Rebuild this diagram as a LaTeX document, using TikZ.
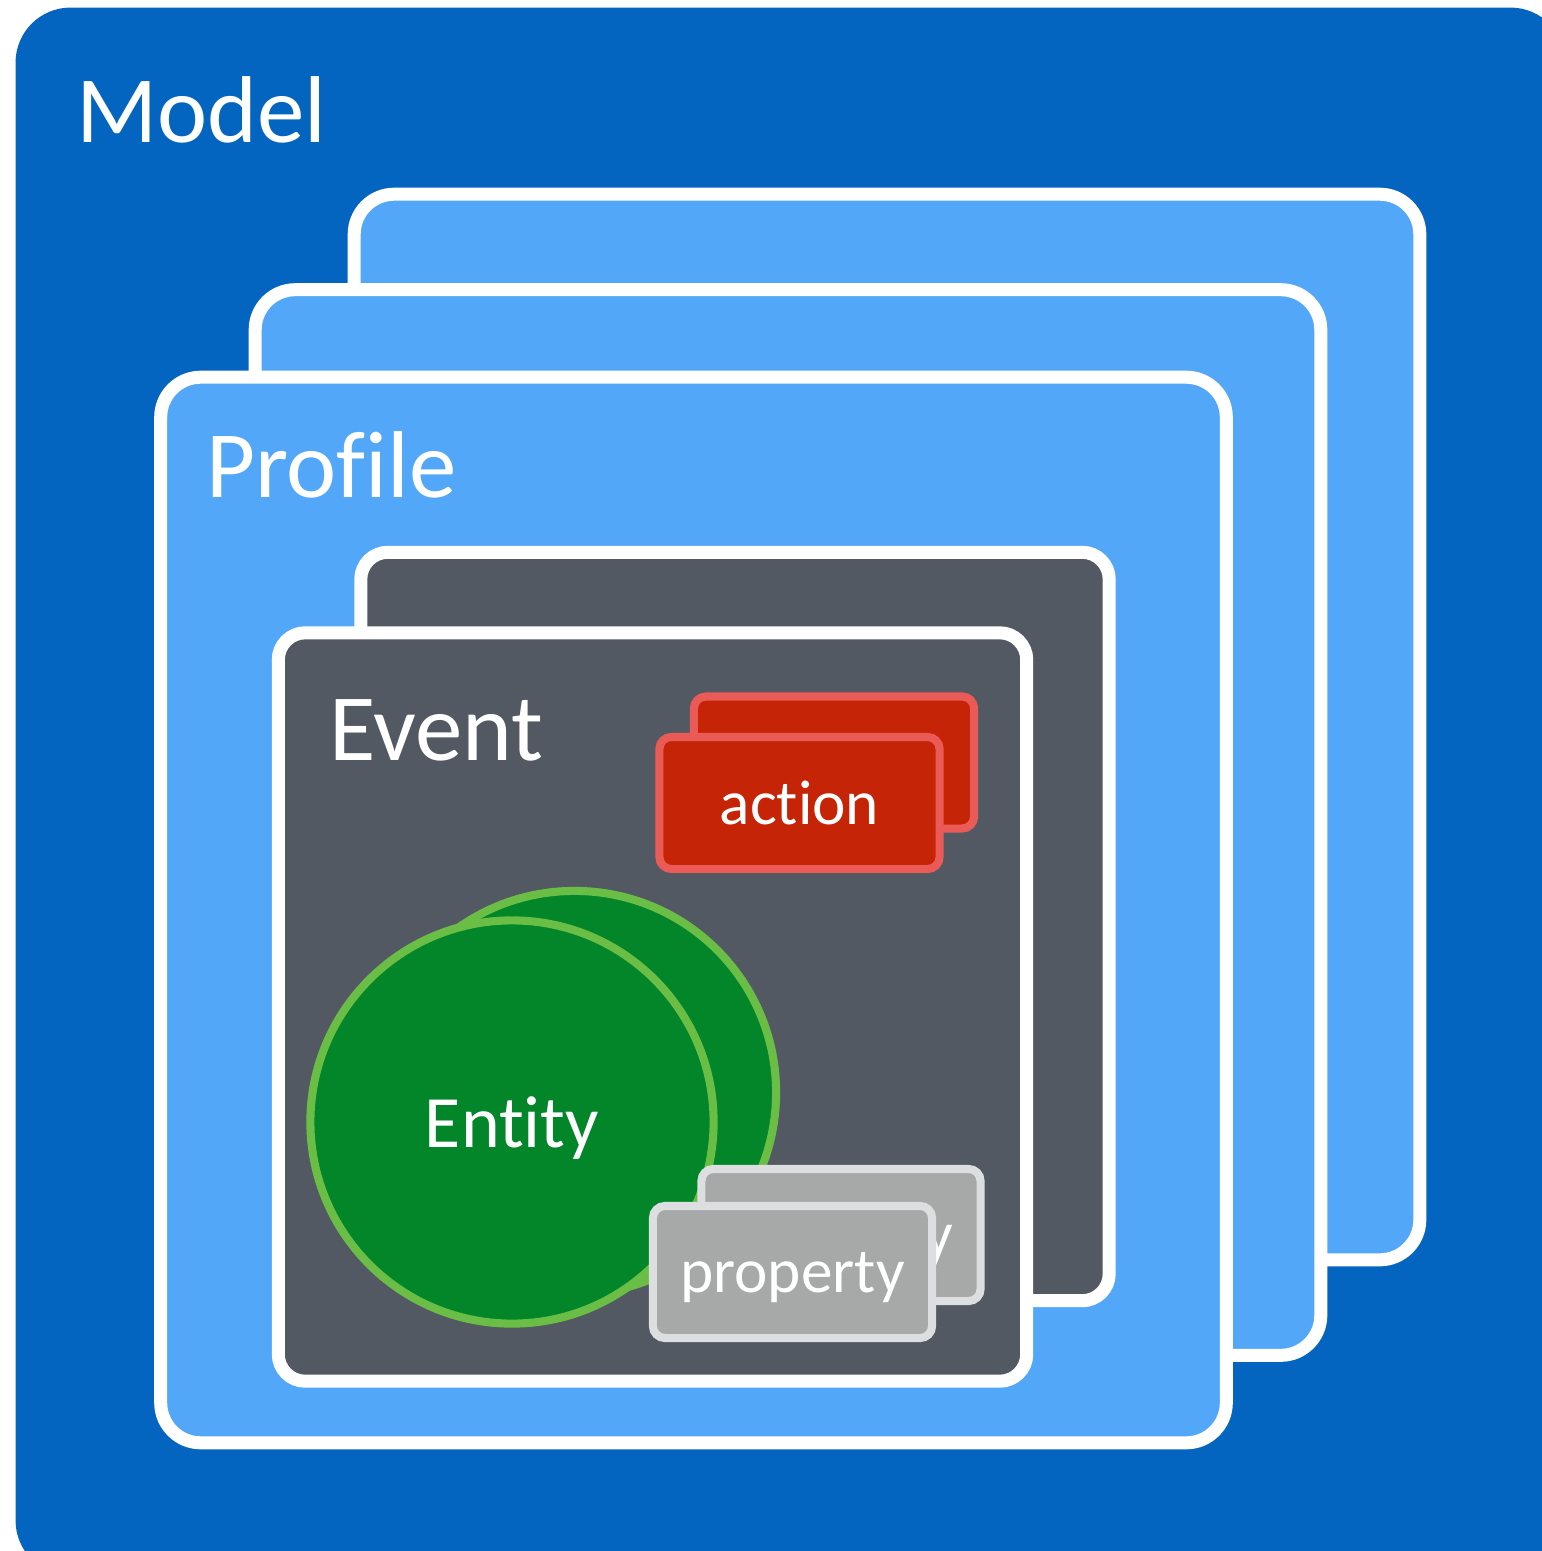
\documentclass[tikz,border=0pt]{standalone}
\usepackage{fontspec}
\setmainfont[Ligatures={NoCommon,NoContextual}]{Carlito}

\definecolor{modelblue}{HTML}{0465C0}
\definecolor{profileblue}{HTML}{52A7F9}
\definecolor{eventgray}{HTML}{535962}
\definecolor{actionred}{HTML}{C52506}
\definecolor{actionedge}{HTML}{EA5B57}
\definecolor{entitygreen}{HTML}{03862A}
\definecolor{entityedge}{HTML}{6BBE45}
\definecolor{propgray}{HTML}{A6A9A8}
\definecolor{propedge}{HTML}{DDDEE0}

\begin{document}
\begin{tikzpicture}[x=0.01cm,y=-0.01cm]
      \tikzstyle{every node}=[inner sep=0pt,outer sep=0pt];
      \tikzstyle{title}=[text=white,anchor=base west,font=\fontsize{27}{31}\selectfont];
      \tikzstyle{modelbox}=[fill=modelblue,rounded corners=0.55cm,minimum width=15.49cm,minimum height=15.67cm];
      \tikzstyle{profilebox}=[draw=white,line width=3.7pt,fill=profileblue,rounded corners=0.4cm,minimum width=10.65cm,minimum height=10.65cm];
      \tikzstyle{eventbox}=[draw=white,line width=3.7pt,fill=eventgray,rounded corners=0.27cm,minimum width=7.48cm,minimum height=7.48cm];
      \tikzstyle{actionbox}=[draw=actionedge,line width=2.3pt,fill=actionred,rounded corners=0.12cm,minimum width=2.8cm,minimum height=1.32cm,text=white,font=\fontsize{18}{21}\selectfont];
      \tikzstyle{propbox}=[draw=propedge,line width=2.3pt,fill=propgray,rounded corners=0.12cm,minimum width=2.79cm,minimum height=1.32cm,text=white,text depth=0pt,font=\fontsize{18}{21}\selectfont];
      \tikzstyle{entity}=[circle,draw=entityedge,line width=2.3pt,fill=entitygreen,minimum size=4.03cm,text=white,text depth=0pt,font=\fontsize{21}{24}\selectfont];

        \useasboundingbox (0,0) rectangle (1541,1551);

        % model
        \path (790.5,791.5) node[modelbox] (model) {};
        \path (76,142) node[title] (modeltitle) {Model};

        % profiles, back to front
        \path (887,727) node[profilebox] (profile3) {};
        \path (788,822.5) node[profilebox] (profile2) {};
        \path (693.5,910) node[profilebox] (profile1) {};
        \path (206,497) node[title] (profiletitle) {Profile};

        % events
        \path (735,926.5) node[eventbox] (event2) {};
        \path (652.5,1007) node[eventbox] (event1) {};
        \path (329,760) node[title] (eventtitle) {Event};

        % actions
        \path (834,762.5) node[actionbox] (action2) {};
        \path (799.5,803) node[actionbox] (action1) {action};

        % entities
        \path (574.5,1092.5) node[entity] (entity2) {};
        \path (512,1122) node[entity] (entity1) {Entity};

        % properties
        \path (841,1235) node[propbox] (property2) {property};
        \path (792.5,1272) node[propbox] (property1) {property};
    \end{tikzpicture}
\end{document}
